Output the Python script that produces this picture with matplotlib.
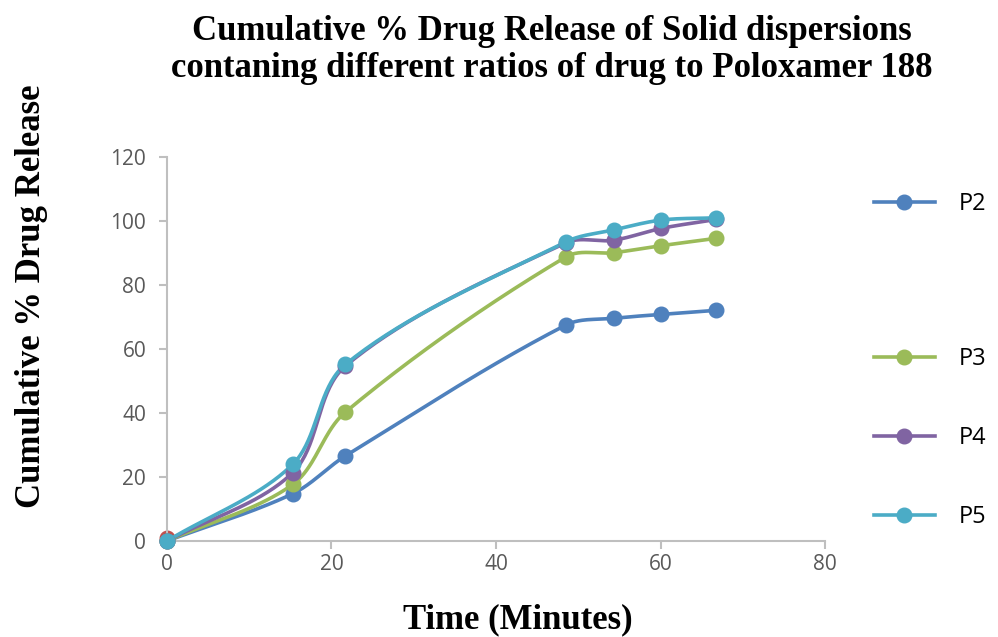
import numpy as np
import matplotlib
matplotlib.use('Agg')
import matplotlib.pyplot as plt
from matplotlib.lines import Line2D

time_min = [0, 15.3, 21.7, 48.5, 54.3, 60.1, 66.8]
p2 = [0, 14.8, 26.6, 67.5, 69.6, 70.8, 72.1]
p3 = [0, 17.7, 40.3, 88.8, 90.1, 92.3, 94.6]
p4 = [0, 21.4, 54.7, 93.2, 94.0, 97.7, 100.5]
p5 = [0, 24.0, 55.2, 93.5, 97.2, 100.3, 101.0]
p1_x = [0]
p1_y = [0.8]

series = [('P2', p2, '#4F81BD'), ('P3', p3, '#9BBB59'),
          ('P4', p4, '#8064A2'), ('P5', p5, '#4BACC6')]


def smooth(ax, x, y, n=40):
    # bezier smoothing done in pixel space, tangent length scaled by segment length
    pts = ax.transData.transform(np.column_stack([x, y]))
    m = len(pts)
    d = np.r_[0, np.hypot(*np.diff(pts, axis=0).T), 0]
    t = np.linspace(0, 1, n)[:, None]
    out = [pts[:1]]
    for i in range(m - 1):
        a, b = pts[i], pts[i + 1]
        ta = pts[min(i + 1, m - 1)] - pts[max(i - 1, 0)]
        tb = pts[min(i + 2, m - 1)] - pts[i]
        c1 = a + ta * d[i + 1] / (d[i] + d[i + 1]) / 3
        c2 = b - tb * d[i + 1] / (d[i + 1] + d[i + 2]) / 3
        seg = ((1 - t) ** 3 * a + 3 * (1 - t) ** 2 * t * c1
               + 3 * (1 - t) * t ** 2 * c2 + t ** 3 * b)
        out.append(seg[1:])
    out = ax.transData.inverted().transform(np.vstack(out))
    return out[:, 0], out[:, 1]


fig = plt.figure(figsize=(9.98, 6.37), dpi=100)
ax = fig.add_axes([0.1673, 0.1507, 0.6594, 0.6028])
ax.set_xlim(0, 80)
ax.set_ylim(0, 120)
ax.set_xticks(range(0, 81, 20))
ax.set_yticks(range(0, 121, 20))

ax.plot(p1_x, p1_y, 'o', color='#C0504D', markersize=10.5, zorder=2,
        clip_on=False)
handles = []
for name, vals, col in series:
    sx, sy = smooth(ax, time_min, vals)
    ax.plot(sx, sy, color=col, lw=2.6, solid_capstyle='round', zorder=3,
            clip_on=False)
    ax.plot(time_min, vals, 'o', color=col, markersize=10.5, zorder=4,
            clip_on=False)
    handles.append(Line2D([], [], color=col, lw=2.6, marker='o',
                          markersize=10.5))

for s in ['top', 'right']:
    ax.spines[s].set_visible(False)
for s in ['left', 'bottom']:
    ax.spines[s].set_color('#BFBFBF')
    ax.spines[s].set_linewidth(1.5)
ax.tick_params(colors='#BFBFBF', width=1.5, length=6, labelcolor='#595959',
               labelsize=15)
for lab in ax.get_xticklabels() + ax.get_yticklabels():
    lab.set_fontfamily('Open Sans')
ax.tick_params(axis='x', pad=3)
ax.tick_params(axis='y', pad=9)

fig.text(0.553, 1 - 50 / 637, 'Cumulative % Drug Release of Solid dispersions\n'
         'contaning different ratios of drug to Poloxamer 188',
         ha='center', va='center', fontsize=25, fontweight='bold',
         family='Liberation Serif', linespacing=1.15)
fig.text(0.032, 1 - 296 / 637, 'Cumulative % Drug Release', rotation=90,
         ha='center', va='center', fontsize=25, fontweight='bold',
         family='Liberation Serif')
fig.text(0.519, 1 - 620 / 637, 'Time (Minutes)', ha='center', va='center',
         fontsize=25, fontweight='bold', family='Liberation Serif')

leg_kw = dict(frameon=False, handlelength=2.6, handletextpad=1.0,
              prop={'family': 'Open Sans', 'size': 17}, loc='center left')
fig.legend(handles[:1], ['P2'], bbox_to_anchor=(0.854, 1 - 204 / 637),
           **leg_kw)
fig.legend(handles[1:], ['P3', 'P4', 'P5'],
           bbox_to_anchor=(0.854, 1 - 438 / 637), labelspacing=2.32, **leg_kw)

fig.savefig('out.png', dpi=100)
